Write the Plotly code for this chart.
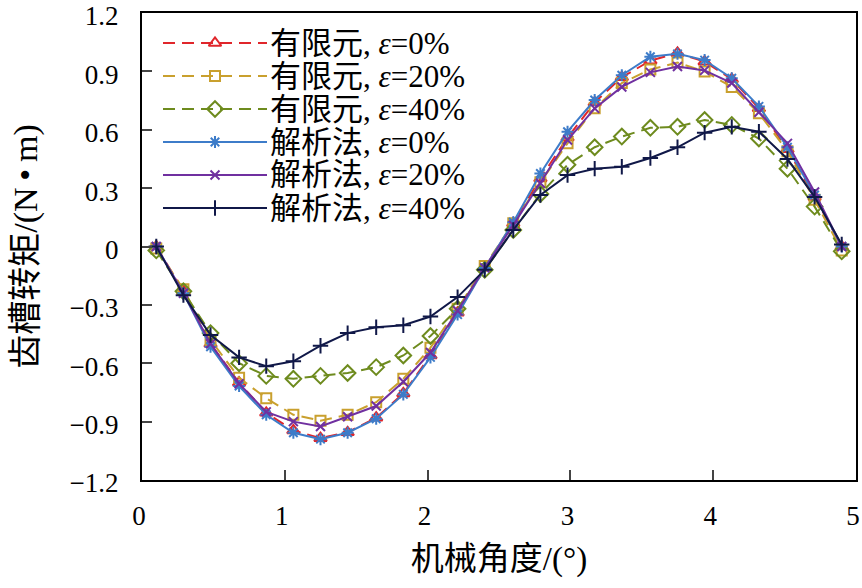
import plotly.graph_objects as go

# mechanical angle (deg)
angle = [0.10, 0.29, 0.48, 0.68, 0.87, 1.06, 1.25, 1.44, 1.64, 1.83, 2.02, 2.21, 2.40,
         2.60, 2.79, 2.98, 3.17, 3.36, 3.56, 3.75, 3.94, 4.13, 4.32, 4.52, 4.71, 4.90]

fem_0 = [0.00, -0.23, -0.50, -0.70, -0.855, -0.945, -0.985, -0.955, -0.88, -0.755, -0.56, -0.34, -0.11,
         0.12, 0.35, 0.56, 0.74, 0.87, 0.955, 0.995, 0.95, 0.86, 0.71, 0.50, 0.255, 0.00]
fem_20 = [-0.01, -0.22, -0.48, -0.675, -0.78, -0.865, -0.895, -0.865, -0.80, -0.68, -0.52, -0.32, -0.10,
          0.12, 0.33, 0.53, 0.71, 0.84, 0.91, 0.945, 0.90, 0.82, 0.685, 0.49, 0.24, -0.02]
fem_40 = [-0.02, -0.23, -0.445, -0.60, -0.665, -0.68, -0.665, -0.65, -0.62, -0.56, -0.46, -0.32, -0.12,
          0.085, 0.27, 0.42, 0.51, 0.565, 0.61, 0.615, 0.65, 0.625, 0.555, 0.40, 0.205, -0.025]
ana_0 = [0.00, -0.24, -0.515, -0.717, -0.865, -0.957, -0.99, -0.957, -0.885, -0.76, -0.57, -0.35, -0.11,
         0.125, 0.375, 0.59, 0.753, 0.88, 0.975, 0.99, 0.958, 0.865, 0.72, 0.51, 0.265, 0.00]
ana_20 = [0.00, -0.24, -0.50, -0.705, -0.85, -0.90, -0.925, -0.875, -0.82, -0.695, -0.545, -0.33, -0.11,
          0.11, 0.325, 0.547, 0.71, 0.82, 0.895, 0.925, 0.905, 0.84, 0.69, 0.53, 0.28, 0.00]
ana_40 = [0.00, -0.25, -0.455, -0.57, -0.615, -0.59, -0.51, -0.445, -0.415, -0.405, -0.36, -0.26, -0.12,
          0.085, 0.265, 0.367, 0.40, 0.41, 0.455, 0.51, 0.585, 0.615, 0.59, 0.45, 0.255, 0.01]

series_names = ["有限元, <i>ε</i>=0%", "有限元, <i>ε</i>=20%", "有限元, <i>ε</i>=40%",
                "解析法, <i>ε</i>=0%", "解析法, <i>ε</i>=20%", "解析法, <i>ε</i>=40%"]

x_ticks = [0, 1, 2, 3, 4, 5]
x_tick_labels = ["0", "1", "2", "3", "4", "5"]
y_ticks = [-1.2, -0.9, -0.6, -0.3, 0, 0.3, 0.6, 0.9, 1.2]
y_tick_labels = ["−1.2", "−0.9", "−0.6", "−0.3", "0", "0.3", "0.6", "0.9", "1.2"]

FONT = "Liberation Serif, Times New Roman, Noto Sans CJK SC, serif"

styles = [
    dict(color="#E0262B", dash="12px,7px", symbol="triangle-up-open", size=11),
    dict(color="#C9A02E", dash="12px,7px", symbol="square-open", size=10),
    dict(color="#6E8B1E", dash="12px,7px", symbol="diamond-open", size=12),
    dict(color="#3D7CC9", dash="solid", symbol="asterisk-open", size=10),
    dict(color="#7030A0", dash="solid", symbol="x-thin-open", size=9),
    dict(color="#101848", dash="solid", symbol="cross-thin-open", size=11),
]
data = [fem_0, fem_20, fem_40, ana_0, ana_20, ana_40]

W, H = 862, 588
L, R, T, B = 142, 6, 13, 108
PW, PH = W - L - R, H - T - B

def px_x(px):
    return (px - L) / PW

def px_y(py):
    return 1 - (py - T) / PH

fig = go.Figure()
for name, ys, st in zip(series_names, data, styles):
    fig.add_trace(go.Scatter(
        x=angle, y=ys, name=name, mode="lines+markers", showlegend=False,
        line=dict(color=st["color"], width=2, dash=st["dash"]),
        marker=dict(symbol=st["symbol"], size=st["size"], color=st["color"],
                    line=dict(color=st["color"], width=2)),
    ))

# custom legend (drawn on an overlay axis spanning the plot area, 0..1)
LEG_X0, LEG_X1, LEG_TX = 163, 267, 268
LEG_ROW0, LEG_DY = 43, 33
annotations = []
for i, (name, st) in enumerate(zip(series_names, styles)):
    yy = px_y(LEG_ROW0 + i * LEG_DY)
    fig.add_trace(go.Scatter(
        x=[px_x(LEG_X0), px_x(LEG_X1)], y=[yy, yy], xaxis="x2", yaxis="y2",
        mode="lines", showlegend=False, hoverinfo="skip",
        line=dict(color=st["color"], width=2, dash=st["dash"]),
    ))
    fig.add_trace(go.Scatter(
        x=[px_x((LEG_X0 + LEG_X1) / 2)], y=[yy], xaxis="x2", yaxis="y2",
        mode="markers", showlegend=False, hoverinfo="skip",
        marker=dict(symbol=st["symbol"], size=st["size"], color=st["color"],
                    line=dict(color=st["color"], width=2)),
    ))
    annotations.append(dict(
        x=px_x(LEG_TX), y=yy, xref="paper", yref="paper", xanchor="left", yanchor="middle",
        text=name, showarrow=False, font=dict(size=31, family=FONT, color="black"),
    ))

fig.update_layout(
    width=W, height=H,
    margin=dict(l=L, r=R, t=T, b=B, autoexpand=False),
    paper_bgcolor="white", plot_bgcolor="white",
    font=dict(family=FONT, size=27, color="black"),
    showlegend=False,
    annotations=annotations,
    xaxis2=dict(overlaying="x", range=[0, 1], visible=False, fixedrange=True),
    yaxis2=dict(overlaying="y", range=[0, 1], visible=False, fixedrange=True),
    xaxis=dict(
        range=[0, 5], tickvals=x_ticks, ticktext=x_tick_labels, ticks="inside", ticklen=10, tickwidth=1.5,
        showline=True, linecolor="black", linewidth=2, mirror=True, showgrid=False, zeroline=False,
        tickfont=dict(size=27), ticklabelstandoff=11, ticklabeloverflow="allow", ticklabelshift=-3,
        automargin=False,
        title=dict(text="机械角度/(°)", font=dict(size=33), standoff=16),
    ),
    yaxis=dict(
        range=[-1.2, 1.2], tickvals=y_ticks, ticktext=y_tick_labels, ticks="inside", ticklen=10, tickwidth=1.5,
        showline=True, linecolor="black", linewidth=2, mirror=True, showgrid=False, zeroline=False,
        tickfont=dict(size=27), ticklabelstandoff=16, ticklabeloverflow="allow", ticklabelshift=3,
        automargin=False,
        title=dict(text="齿槽转矩/(N\u2009•\u2009m)", font=dict(size=34), standoff=22),
    ),
)

fig.write_html("out.html", config={"displayModeBar": False},
               post_script=["document.body.style.margin='0px';"])
